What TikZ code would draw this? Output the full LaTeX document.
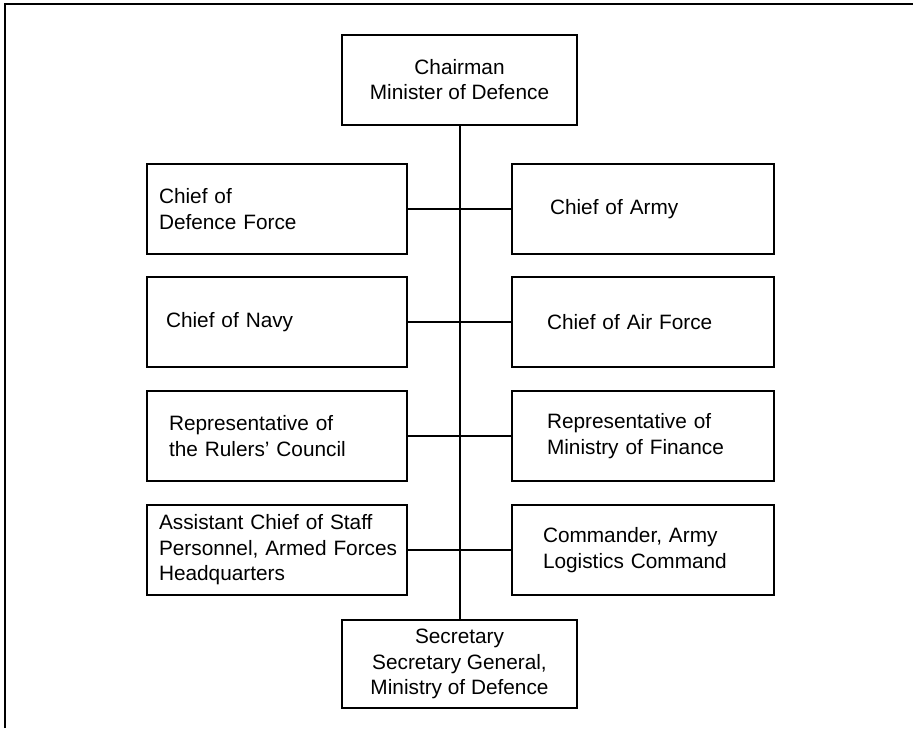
\documentclass[tikz,border=0pt]{standalone}
\usepackage{fontspec}
\setmainfont{Liberation Sans}
\usetikzlibrary{positioning}
\tikzset{
	unit/.style={draw=black, line width=1pt, minimum height=45pt, inner ysep=0pt,
		align=left, font=\fontsize{10.4}{12.8}\selectfont},
	headunit/.style={unit, align=center, minimum width=117.5pt},
	leftunit/.style={unit, inner xsep=#1, text width=130pt-2*#1},
	rightunit/.style={unit, inner xsep=#1, text width=131pt-2*#1},
	link/.style={draw=black, line width=1pt},
}
\begin{document}
\begin{tikzpicture}[x=0.5pt, y=-0.5pt]
	\useasboundingbox (0,0) rectangle (913,728);
	% frame
	\draw[line width=1pt] (5,728) -- (5,3.5) -- (913,3.5);
	% chairman and secretary
	\node[headunit] (chair) at (459.5,79.5) {Chairman\\Minister of Defence};
	\node[headunit, minimum height=44pt] (sec) at (459.5,664) {Secretary\\Secretary General,\\Ministry of Defence};
	% left column
	\node[leftunit=6pt] (l1) at (277,209) {Chief of\\Defence Force};
	\node[leftunit=9.5pt] (l2) at (277,322) {Chief of Navy};
	\node[leftunit=11pt] (l3) at (277,436) {Representative of\\the Rulers' Council};
	\node[leftunit=6pt] (l4) at (277,550) {\mbox{Assistant Chief of Staff}\\\mbox{Personnel, Armed Forces}\\Headquarters};
	% right column
	\node[rightunit=19pt] (r1) at (643,209) {Chief of Army};
	\node[rightunit=17.5pt] (r2) at (643,322) {Chief of Air Force};
	\node[rightunit=17.5pt] (r3) at (643,436) {Representative of\\Ministry of Finance};
	\node[rightunit=15.5pt] (r4) at (643,550) {Commander, Army\\Logistics Command};
	% lines
	\draw[link] (chair.south) -- (sec.north);
	\foreach \i in {1,...,4}
		\draw[link] (l\i.east) -- (r\i.west);
\end{tikzpicture}
\end{document}
